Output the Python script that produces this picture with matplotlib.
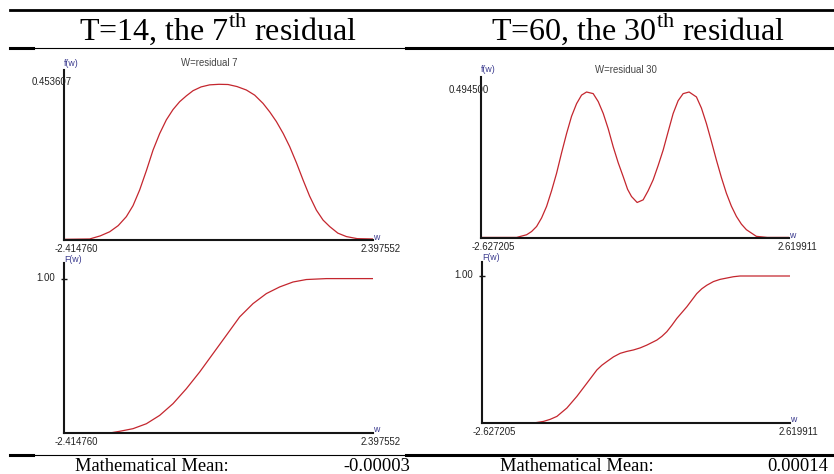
import matplotlib.pyplot as plt
from matplotlib.lines import Line2D

# ---------------------------
# Data
# ---------------------------

headers = ["T=14, the 7$^{\\mathrm{th}}$ residual", "T=60, the 30$^{\\mathrm{th}}$ residual"]
panel_titles = ["W=residual 7", "W=residual 30"]
means = ["-0.00003", "0.00014"]

# x ranges of the two residuals
w_range_7 = [-2.414760, 2.397552]
w_range_30 = [-2.627205, 2.619911]
f_max_7 = 0.453607
f_max_30 = 0.494500

# density of residual 7
w_pdf_7 = [-2.415, -2.015, -1.850, -1.703, -1.570, -1.444, -1.340, -1.236, -1.130, -1.028,
           -0.925, -0.821, -0.717, -0.613, -0.509, -0.405, -0.280, -0.146, 0.000, 0.140,
           0.280, 0.425, 0.555, 0.685, 0.790, 0.893, 1.000, 1.100, 1.205, 1.308,
           1.410, 1.516, 1.620, 1.724, 1.850, 1.983, 2.150, 2.398]
f_pdf_7 = [0.002, 0.003, 0.012, 0.024, 0.042, 0.068, 0.100, 0.146, 0.203, 0.262,
           0.310, 0.350, 0.380, 0.403, 0.420, 0.435, 0.446, 0.452, 0.4536, 0.453,
           0.447, 0.437, 0.422, 0.398, 0.373, 0.345, 0.310, 0.272, 0.225, 0.175,
           0.128, 0.087, 0.058, 0.039, 0.020, 0.010, 0.004, 0.003]

# density of residual 30
w_pdf_30 = [-2.627, -2.020, -1.850, -1.765, -1.680, -1.595, -1.510, -1.425, -1.340, -1.255,
            -1.169, -1.085, -0.999, -0.914, -0.829, -0.716, -0.630, -0.545, -0.460, -0.375,
            -0.290, -0.205, -0.130, -0.063, 0.033, 0.135, 0.220, 0.305, 0.390, 0.476,
            0.561, 0.646, 0.731, 0.816, 0.918, 1.043, 1.128, 1.213, 1.298, 1.383,
            1.468, 1.553, 1.638, 1.724, 1.809, 1.894, 2.064, 2.250, 2.620]
f_pdf_30 = [0.002, 0.002, 0.011, 0.022, 0.039, 0.068, 0.107, 0.160, 0.219, 0.288,
            0.354, 0.412, 0.455, 0.484, 0.4945, 0.489, 0.462, 0.422, 0.370, 0.309,
            0.255, 0.208, 0.165, 0.1405, 0.1203, 0.1292, 0.160, 0.1967, 0.245, 0.2978,
            0.360, 0.4215, 0.465, 0.4889, 0.4945, 0.4777, 0.440, 0.3877, 0.327, 0.2641,
            0.205, 0.1517, 0.108, 0.0731, 0.047, 0.0281, 0.0056, 0.002, 0.002]

# distribution functions
w_cdf_7 = [-2.415, -1.703, -1.548, -1.340, -1.132, -0.925, -0.717, -0.509, -0.302, -0.094,
           0.114, 0.321, 0.529, 0.737, 0.944, 1.152, 1.360, 1.672, 2.398]
F_cdf_7 = [0.0, 0.0, 0.011, 0.028, 0.060, 0.114, 0.190, 0.287, 0.395, 0.514,
           0.633, 0.752, 0.838, 0.903, 0.946, 0.978, 0.994, 1.0, 1.0]

w_cdf_30 = [-2.627, -1.748, -1.578, -1.465, -1.351, -1.181, -1.011, -0.840, -0.670, -0.585,
            -0.500, -0.387, -0.273, -0.160, -0.046, 0.068, 0.181, 0.351, 0.436, 0.521,
            0.606, 0.691, 0.861, 1.031, 1.117, 1.202, 1.315, 1.428, 1.655, 1.769,
            2.620]
F_cdf_30 = [0.0, 0.0, 0.011, 0.025, 0.045, 0.102, 0.181, 0.271, 0.361, 0.393,
            0.418, 0.450, 0.474, 0.487, 0.497, 0.511, 0.530, 0.564, 0.589, 0.621,
            0.664, 0.711, 0.790, 0.880, 0.913, 0.937, 0.962, 0.977, 0.995, 1.0,
            1.0]

# ---------------------------
# Layout helpers (pixels)
# ---------------------------

W, H = 834, 474
plt.rcParams['mathtext.fontset'] = 'custom'
plt.rcParams['mathtext.rm'] = 'Liberation Serif'

fig = plt.figure(figsize=(W / 100, H / 100), dpi=100)

CURVE = '#c4262e'
BLUE = '#3a3a8e'
SANS = 'Liberation Sans'
SERIF = 'Liberation Serif'


def px_axes(x0, y0, x1, y1):
    return fig.add_axes([x0 / W, 1 - y1 / H, (x1 - x0) / W, (y1 - y0) / H])


def hline(x0, x1, y, lw):
    fig.add_artist(Line2D([x0 / W, x1 / W], [1 - y / H, 1 - y / H],
                          transform=fig.transFigure, color='black', lw=lw))


def note(ax, s, xy, off, coords='data', **kw):
    kw.setdefault('fontsize', 6.9)
    kw.setdefault('family', SANS)
    kw.setdefault('ha', 'center')
    kw.setdefault('va', 'center')
    ax.annotate(s, xy=xy, xycoords=coords, xytext=off, textcoords='offset pixels',
                annotation_clip=False, **kw)


def draw_panel(box, w, f, w_range, ytop_val, ymax_frac, ylab, top_label, is_cdf,
               title=None):
    ax = px_axes(*box)
    ax.plot(w, f, color=CURVE, lw=0.9)
    ax.set_xlim(w_range)
    ax.set_ylim(0, ytop_val * ymax_frac)
    for s in ['top', 'right']:
        ax.spines[s].set_visible(False)
    for s in ['left', 'bottom']:
        ax.spines[s].set_linewidth(1.5)
        ax.spines[s].set_color('#151515')
    ax.set_xticks([])
    if is_cdf:
        ax.set_yticks([1.0], [''])
        ax.tick_params(axis='y', direction='inout', length=5, width=1, color='#151515')
        note(ax, top_label, (w_range[0], 1.0), (-9, 1), ha='right', color='#222222')
    else:
        ax.set_yticks([])
        note(ax, top_label, (w_range[0], ytop_val), (8, 2), ha='right', color='#222222')
    ax.patch.set_alpha(0)
    # axis names
    note(ax, ylab, (0, 1), (9 if is_cdf else 7, 4 if is_cdf else 7), coords='axes fraction',
         color=BLUE, fontsize=6.3)
    note(ax, 'w', (1, 0), (3, 3), coords='axes fraction', color=BLUE, fontsize=6.3)
    # range labels
    note(ax, f"{w_range[0]:.6f}", (w_range[0], 0), (12, -9), color='#222222')
    note(ax, f"{w_range[1]:.6f}", (w_range[1], 0), (8, -9), color='#222222')
    if title:
        note(ax, title, (0.47, 1), (0, 7), coords='axes fraction', color='#444444')
    return ax


# ---------------------------
# Table frame and texts
# ---------------------------

hline(10, W, 10, 2.0)
for y in [48, 455]:
    hline(10, 33, y, 2.2)
    hline(33, 406, y, 0.8)
    hline(406, W, y, 2.2)

fig.text(218 / W, 1 - 40 / H, headers[0], family=SERIF, fontsize=23,
         ha='center', va='baseline')
fig.text(638 / W, 1 - 40 / H, headers[1], family=SERIF, fontsize=23,
         ha='center', va='baseline')

for x_lab, x_val, m in [(75, 410, means[0]), (500, 828, means[1])]:
    fig.text(x_lab / W, 1 - 471 / H, "Mathematical Mean:", family=SERIF, fontsize=13.3,
             ha='left', va='baseline')
    fig.text(x_val / W, 1 - 471 / H, m, family=SERIF, fontsize=13.3,
             ha='right', va='baseline')

# ---------------------------
# The four panels
# ---------------------------

draw_panel((64, 70, 373, 240), w_pdf_7, f_pdf_7, w_range_7, f_max_7, 170 / 155.7,
           'f(w)', f"{f_max_7:.6f}", False, panel_titles[0])
draw_panel((481, 77, 789, 238), w_pdf_30, f_pdf_30, w_range_30, f_max_30, 161 / 146,
           'f(w)', f"{f_max_30:.6f}", False, panel_titles[1])
draw_panel((64, 263, 373, 433), w_cdf_7, F_cdf_7, w_range_7, 1.0, 170 / 154.4,
           'F(w)', "1.00", True)
draw_panel((482, 262, 790, 423), w_cdf_30, F_cdf_30, w_range_30, 1.0, 161 / 147,
           'F(w)', "1.00", True)

plt.savefig("out.png", dpi=100)
